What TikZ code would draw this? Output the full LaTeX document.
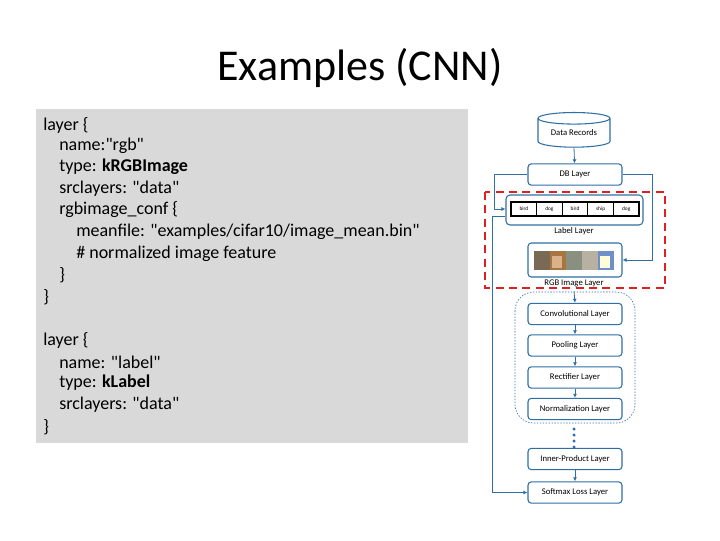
\documentclass[tikz,border=0pt]{standalone}
\usepackage{fontspec}
\setmainfont{Carlito}[Ligatures=TeXOff]
\usetikzlibrary{arrows.meta,shapes.geometric}
\definecolor{bl}{HTML}{2F6FA5}
\definecolor{gr}{HTML}{D9D9D9}
\definecolor{rd}{HTML}{E02020}
\definecolor{im1}{HTML}{7A6A55}
\definecolor{im2}{HTML}{A8753F}
\definecolor{im3}{HTML}{8A9080}
\definecolor{im4}{HTML}{B8B0A0}
\definecolor{im5}{HTML}{6F8FC8}
\newcommand{\qq}{"}
\begin{document}
\begin{tikzpicture}[x=0.75pt,y=-0.75pt,
 lay/.style={draw=bl,line width=0.8pt,rounded corners=2.5pt,minimum width=70.5pt,minimum height=16pt,inner sep=0pt,font=\fontsize{6.5}{7}\selectfont,fill=white},
 con/.style={draw=bl,line width=0.6pt,-{Latex[length=3pt,width=3pt]}},
 code/.style={anchor=west,inner sep=0pt,font=\fontsize{13.5}{15}\selectfont},
 cell/.style={draw=black,line width=0.6pt,minimum width=19.2pt,minimum height=10.5pt,inner sep=0pt,font=\fontsize{4}{5}\selectfont}]
\useasboundingbox (0,0) rectangle (720,540);
\node[font=\fontsize{33}{36}\selectfont] (title) at (360,68) {Examples (CNN)};
\fill[gr] (36,109) rectangle (468,443);
\node[code] (c1) at (43,125) {layer \{};
\node[code] (c2) at (59,146) {name:\qq rgb\qq};
\node[code] (c3) at (59,167) {type: \textbf{kRGBImage}};
\node[code] (c4) at (59,189) {srclayers: \qq data\qq};
\node[code] (c5) at (59,210) {rgbimage\_conf \{};
\node[code] (c6) at (76,232) {meanfile: \qq examples/cifar10/image\_mean.bin\qq};
\node[code] (c7) at (76,254) {\# normalized image feature};
\node[code] (c8) at (59,275) {\}};
\node[code] (c9) at (43,297) {\}};
\node[code] (d1) at (43,340) {layer \{};
\node[code] (d2) at (59,362) {name: \qq label\qq};
\node[code] (d3) at (59,383) {type: \textbf{kLabel}};
\node[code] (d4) at (59,405) {srclayers: \qq data\qq};
\node[code] (d5) at (43,427) {\}};
% right diagram
\draw[bl,line width=0.5pt,dash pattern=on 1pt off 1.2pt,rounded corners=14pt] (515,292) rectangle (635,423);
\node[cylinder,shape border rotate=90,draw=bl,line width=0.8pt,aspect=0.25,minimum width=54pt,minimum height=26pt,inner sep=0pt,font=\fontsize{6.5}{7}\selectfont,fill=white] (data) at (574,133) {Data Records};
\node[lay] (db) at (575,174.5) {DB Layer};
\node[draw=bl,line width=0.8pt,rounded corners=3pt,minimum width=102.75pt,minimum height=22.5pt,inner sep=0pt] (lab) at (574.5,210) {};
\node[lay,minimum height=25.5pt] (rgb) at (575,260) {};
\node[font=\fontsize{6.5}{7}\selectfont] (labt) at (574,231) {Label Layer};
\node[font=\fontsize{6.5}{7}\selectfont] (rgbt) at (574,283) {RGB Image Layer};
\foreach \t [count=\i] in {bird,dog,bird,ship,dog}
  \node[cell] (cl\i) at ({511+12.8+(\i-1)*25.6},209) {\t};
\draw[black,line width=1pt] (511,202) rectangle (639,216);
\foreach \i in {1,...,5}
  \fill[im\i] ({534+(\i-1)*16},251) rectangle ({550+(\i-1)*16},270);
\fill[white!85!yellow] (600,256) rectangle (610,268);
\fill[brown!60] (552,256) rectangle (562,268);
\node[lay] (conv) at (575,314) {Convolutional Layer};
\node[lay] (pool) at (575,345.5) {Pooling Layer};
\node[lay] (rect) at (575,377.5) {Rectifier Layer};
\node[lay] (norm) at (575,409) {Normalization Layer};
\node[lay] (ip) at (575,459) {Inner-Product Layer};
\node[lay] (sm) at (575,492.5) {Softmax Loss Layer};
\foreach \y in {429,435,441,447}
  \fill[bl] (574,\y) circle (1.3pt);
\draw[con] (data.bottom) -- (db);
\draw[con] (db.west) -- (494,174.5) -- (494,209) -- (lab.west |- 0,209);
\draw[con] (db.east) -- (652,174.5) -- (652,260) -- (rgb.east);
\draw[con] (lab.west |- 0,216) -- (492,216) -- (492,492.5) -- (sm.west);
\draw[con] (rgbt.south) -- (conv.north);
\draw[con] (conv) -- (pool);
\draw[con] (pool) -- (rect);
\draw[con] (rect) -- (norm);
\draw[con] (ip) -- (sm);
\draw[rd,line width=2pt,dash pattern=on 6pt off 4pt] (485,192) rectangle (665,288);
\end{tikzpicture}
\end{document}
